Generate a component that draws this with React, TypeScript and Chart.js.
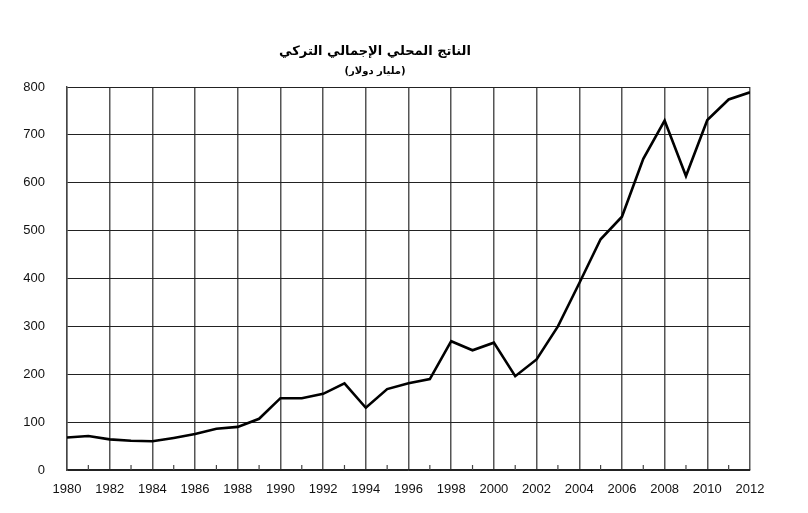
import React, { useEffect, useRef } from "react";
import { Chart, registerables } from "chart.js";

Chart.register(...registerables);

const years: number[] = [
  1980, 1981, 1982, 1983, 1984, 1985, 1986, 1987, 1988, 1989, 1990, 1991, 1992,
  1993, 1994, 1995, 1996, 1997, 1998, 1999, 2000, 2001, 2002, 2003, 2004, 2005,
  2006, 2007, 2008, 2009, 2010, 2011, 2012,
];
const gdp: number[] = [
  68, 71, 64, 61, 60, 67, 75, 86, 90, 107, 150, 150, 159,
  181, 130, 169, 181, 190, 269, 250, 266, 196, 231, 300, 390, 482,
  529, 650, 730, 614, 731, 774, 789,
];
const titleText = "الناتج المحلي الإجمالي التركي";
const subtitleText = "(مليار دولار)";

const minorTicks = {
  id: "minorTicks",
  afterDatasetsDraw(chart: any) {
    const x = chart.scales.x;
    const bottom = chart.chartArea.bottom;
    const ctx = chart.ctx;
    ctx.save();
    ctx.strokeStyle = "#444";
    ctx.lineWidth = 1.2;
    years.forEach((yr) => {
      if (yr % 2 === 1) {
        const px = x.getPixelForValue(yr);
        ctx.beginPath();
        ctx.moveTo(px, bottom);
        ctx.lineTo(px, bottom - 5);
        ctx.stroke();
      }
    });
    ctx.restore();
  },
};

export default function App() {
  const ref = useRef<HTMLCanvasElement | null>(null);
  useEffect(() => {
    if (!ref.current) return;
    const chart = new Chart(ref.current, {
      type: "line",
      data: {
        datasets: [
          {
            data: years.map((y, i) => ({ x: y, y: gdp[i] })),
            borderColor: "#000",
            borderWidth: 2.6,
            pointRadius: 0,
            tension: 0,
          },
        ],
      },
      options: {
        animation: false,
        responsive: false,
        events: [],
        layout: { padding: { left: 0, right: 58, top: 0, bottom: 0 } },
        plugins: {
          legend: { display: false },
          tooltip: { enabled: false },
          title: {
            display: true,
            text: titleText,
            color: "#000",
            font: { family: "DejaVu Sans", size: 13, weight: "bold" },
            padding: { top: 44, bottom: 6 },
          },
          subtitle: {
            display: true,
            text: subtitleText,
            color: "#000",
            font: { family: "DejaVu Sans", size: 10, weight: "bold" },
            padding: { top: 0, bottom: 9.4 },
          },
        },
        scales: {
          x: {
            type: "linear",
            min: 1980,
            max: 2012,
            afterFit: (s: any) => {
              s.height = 43;
            },
            ticks: {
              stepSize: 1,
              autoSkip: false,
              maxRotation: 0,
              padding: 12,
              color: "#111",
              font: { family: "Liberation Sans", size: 13 },
              callback: (v: any) => (Number(v) % 2 === 0 ? String(v) : ""),
            },
            grid: {
              drawTicks: false,
              color: (c: any) =>
                c.tick && Number(c.tick.value) % 2 === 0 ? "#555" : "rgba(0,0,0,0)",
              lineWidth: 1.5,
            },
            border: { display: true, color: "#222", width: 1.4 },
          },
          y: {
            min: 0,
            max: 800,
            afterFit: (s: any) => {
              s.width = 67;
            },
            ticks: {
              stepSize: 100,
              padding: 22,
              color: "#111",
              font: { family: "Liberation Sans", size: 13 },
            },
            grid: { drawTicks: false, color: "#222", lineWidth: 1 },
            border: { display: true, color: "#444", width: 1.4 },
          },
        },
      },
      plugins: [minorTicks],
    });
    return () => chart.destroy();
  }, []);
  return (
    <div style={{ position: "fixed", left: 0, top: 0, width: 808, height: 513, background: "#fff" }}>
      <canvas ref={ref} width={808} height={513} style={{ width: 808, height: 513, display: "block" }} />
    </div>
  );
}
